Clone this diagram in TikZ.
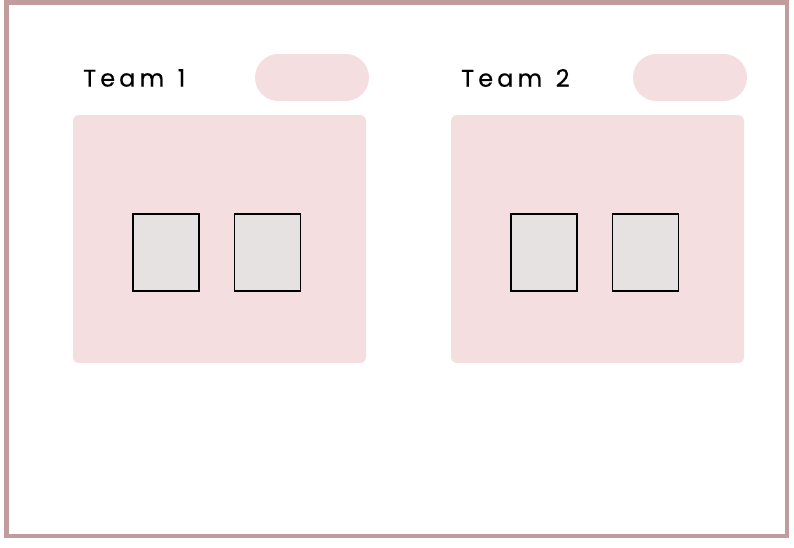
\documentclass[tikz,border=0pt]{standalone}
\usepackage{fontspec}
\newfontfamily\teamfont[LetterSpace=17,FakeBold=0.4]{Poppins}
\usetikzlibrary{positioning,shadows}
\definecolor{frameRose}{HTML}{C09C9D}
\definecolor{panelPink}{HTML}{F5DEDF}
\definecolor{seatGrey}{HTML}{E6E2E1}

\begin{document}
\begin{tikzpicture}[x=1pt,y=-1pt]
  \tikzstyle{frame} = [draw=frameRose, line width=4.5pt, drop shadow={shadow xshift=0pt, shadow yshift=-2pt, opacity=0.15}, fill=white];
  \tikzstyle{panel} = [fill=panelPink, rounded corners=6pt, minimum width=293pt, minimum height=248pt, inner sep=0pt];
  \tikzstyle{pill} = [fill=panelPink, rounded corners=23.5pt, minimum width=114pt, minimum height=47pt, inner sep=0pt];
  \tikzstyle{seat} = [draw=black, line width=1.3pt, fill=seatGrey, minimum width=66pt, minimum height=77pt, inner sep=0pt];
  \tikzstyle{teamLabel} = [anchor=west, inner sep=0pt, font={\teamfont\fontsize{24}{28}\selectfont}];

  \useasboundingbox (0,0) rectangle (794,547);
  \path[frame] (6.5,2.5) rectangle (787,536);

  \node[panel] (panelA) at (219.5,239) {};
  \node[panel] (panelB) at (597.5,239) {};
  \node[pill]  (pillA)  at (312,77.5) {};
  \node[pill]  (pillB)  at (690,77.5) {};
  \node[teamLabel] (labelA) at (83,78) {Team\hspace{3pt} 1};
  \node[teamLabel] (labelB) at (461,78) {Team\hspace{3pt} 2};

  \node[seat] (seatA1) at (166,252.5) {};
  \node[seat] (seatA2) [right=34pt of seatA1] {};
  \node[seat] (seatB1) at (544,252.5) {};
  \node[seat] (seatB2) [right=34pt of seatB1] {};
\end{tikzpicture}
\end{document}
